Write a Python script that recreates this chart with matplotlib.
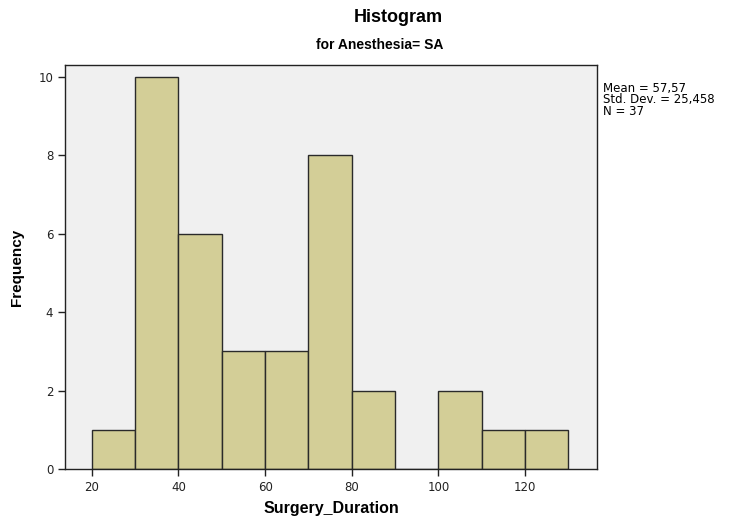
import matplotlib
matplotlib.use("Agg")
import matplotlib.pyplot as plt
import numpy as np

plt.rcParams['font.family'] = ['Liberation Sans', 'DejaVu Sans']

bin_edges = [20, 30, 40, 50, 60, 70, 80, 90, 100, 110, 120, 130]
counts = [1, 10, 6, 3, 3, 8, 2, 0, 2, 1, 1]
x_ticks = [20, 40, 60, 80, 100, 120]
y_ticks = [0, 2, 4, 6, 8, 10]

fig = plt.figure(figsize=(7.38, 5.19), dpi=100)
ax = fig.add_axes([0.088, 0.0963, 0.721, 0.7785])
ax.set_facecolor('#F0F0F0')

lefts = np.array(bin_edges[:-1])
widths = np.diff(bin_edges)
ax.bar(lefts, counts, width=widths, align='edge', color='#D3CE97',
       edgecolor='#2a2a2a', linewidth=1.0)

ax.set_xlim(13.8, 136.6)
ax.set_ylim(0, 10.3)
ax.set_xticks(x_ticks)
ax.set_yticks(y_ticks)
ax.tick_params(direction='out', length=5, width=1, labelsize=8.5, colors='#222222')
for lab in ax.get_xticklabels() + ax.get_yticklabels():
    lab.set_family('DejaVu Sans')
for s in ax.spines.values():
    s.set_color('#222222')
    s.set_linewidth(1.0)

ax.set_xlabel('Surgery_Duration', fontsize=11.5, fontweight='bold', labelpad=5)
ax.set_ylabel('Frequency', fontsize=11, fontweight='bold', labelpad=10)

fig.text(398/738, 1 - 17/519, 'Histogram', ha='center', va='center',
         fontsize=13, fontweight='bold')
fig.text(380/738, 1 - 45/519, 'for Anesthesia= SA', ha='center', va='center',
         fontsize=10, fontweight='bold')
fig.text(603/738, 1 - 82/519, 'Mean = 57,57\nStd. Dev. = 25,458\nN = 37',
         ha='left', va='top', fontsize=8.5, linespacing=0.85,
         family='DejaVu Sans')

fig.savefig('out.png', dpi=100)
